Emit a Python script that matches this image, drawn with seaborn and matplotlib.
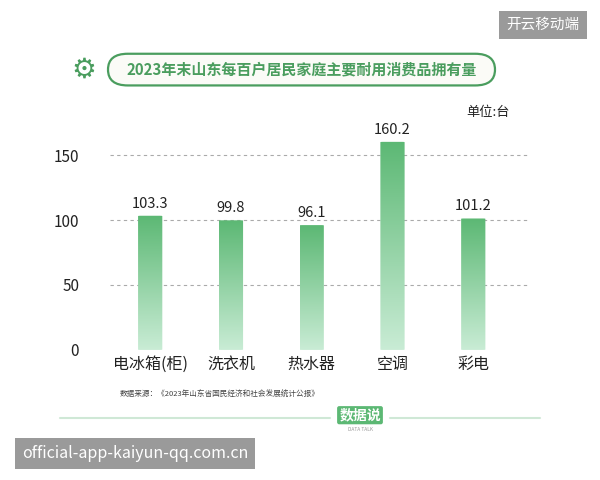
import matplotlib
matplotlib.use("Agg")
import matplotlib.pyplot as plt
import seaborn as sns
import numpy as np
import pandas as pd
from matplotlib.patches import FancyBboxPatch
from matplotlib.colors import LinearSegmentedColormap

categories = ["电冰箱(柜)", "洗衣机", "热水器", "空调", "彩电"]
values = [103.3, 99.8, 96.1, 160.2, 101.2]
yticks = [0, 50, 100, 150]

sns.set_theme(style="white")
plt.rcParams['font.family'] = ['Noto Sans CJK SC', 'DejaVu Sans']

fig = plt.figure(figsize=(6, 4.8), dpi=100)
ax = fig.add_axes([0.183, 0.271, 0.7, 0.46])
df = pd.DataFrame({"cat": categories, "val": values})
sns.barplot(data=df, x="cat", y="val", ax=ax, width=0.3, color="#5cb874")
ax.set_ylim(0, 170)
cmap = LinearSegmentedColormap.from_list("g", ["#c9ecd5", "#5cb874"])
grad = np.linspace(0, 1, 256).reshape(-1, 1)
for p in ax.patches:
    x0, w, h = p.get_x(), p.get_width(), p.get_height()
    p.set_facecolor("none"); p.set_edgecolor("none")
    im = ax.imshow(grad, extent=[x0, x0 + w, 0, h], origin="lower", cmap=cmap,
                   aspect="auto", zorder=2)
    clip = FancyBboxPatch((x0, 0), w, h, boxstyle="round,pad=0,rounding_size=0.03",
                          mutation_aspect=8, transform=ax.transData, fc="none", ec="none")
    ax.add_patch(clip)
    im.set_clip_path(clip)
    ax.text(x0 + w / 2, h + 4, f"{h:.1f}", ha="center", va="bottom", fontsize=10.5, color="#222")
ax.set_xlim(-0.5, 4.7)
ax.set_yticks(yticks)
ax.set_yticklabels([str(t) for t in yticks], fontsize=11, color="#222")
ax.tick_params(axis="x", labelsize=11.5, colors="#222", length=0, pad=4)
ax.tick_params(axis="y", length=0, pad=22)
for t in yticks[1:]:
    ax.axhline(t, color="#aaaaaa", ls=(0, (3, 3)), lw=0.8, zorder=0)
ax.set_xlabel(""); ax.set_ylabel("")
for s in ax.spines.values():
    s.set_visible(False)

fig.patches.append(FancyBboxPatch((0.18, 0.822), 0.645, 0.066, boxstyle="round,pad=0,rounding_size=0.033",
                                  transform=fig.transFigure, fc="#fbfbf7", ec="#4a9d5e", lw=1.6))
fig.text(0.503, 0.855, "2023年末山东每百户居民家庭主要耐用消费品拥有量", ha="center", va="center",
         fontsize=10.8, color="#4a9d5e", fontweight="bold")
fig.text(0.14, 0.855, "⚙", ha="center", va="center", fontsize=20, color="#4a9d5e", family="DejaVu Sans")
fig.text(0.85, 0.765, "单位:台", ha="right", va="center", fontsize=9.5, color="#222")
fig.text(0.2, 0.177, "数据来源：《2023年山东省国民经济和社会发展统计公报》", ha="left", va="center",
         fontsize=5.5, color="#444")
fig.add_artist(plt.Line2D([0.1, 0.55], [0.13, 0.13], color="#cfe8d6", lw=1.5, transform=fig.transFigure))
fig.add_artist(plt.Line2D([0.65, 0.9], [0.13, 0.13], color="#cfe8d6", lw=1.5, transform=fig.transFigure))
fig.text(0.6, 0.135, "数据说", ha="center", va="center", fontsize=10, color="white", fontweight="bold",
         bbox=dict(boxstyle="round,pad=0.15", fc="#5cb874", ec="none"))
fig.text(0.6, 0.105, "DATA TALK", ha="center", va="center", fontsize=3.5, color="#999")
fig.text(0.905, 0.948, "开云移动端", ha="center", va="center", fontsize=10.5, color="white",
         bbox=dict(boxstyle="square,pad=0.5", fc="#9a9a9a", ec="none"))
fig.text(0.225, 0.055, "official-app-kaiyun-qq.com.cn", ha="center", va="center", fontsize=11.5,
         color="white", bbox=dict(boxstyle="square,pad=0.45", fc="#9a9a9a", ec="none"))
fig.savefig("out.png", dpi=100, facecolor="white")
